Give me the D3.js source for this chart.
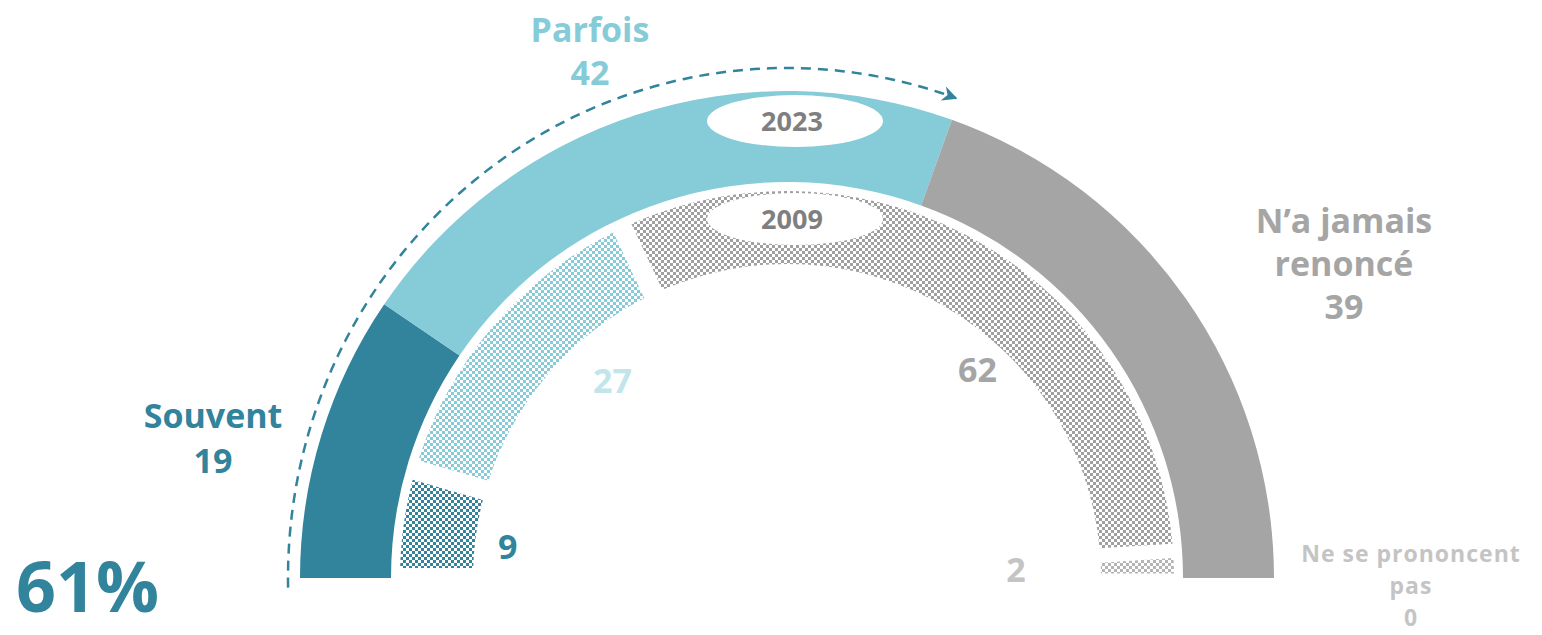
<!DOCTYPE html>
<html>
<head>
<meta charset="utf-8">
<script src="https://cdn.jsdelivr.net/npm/d3@7"></script>
<style>
  body { margin: 0; background: #fff; }
  text { font-family: "Open Sans", sans-serif; font-weight: 700; }
</style>
</head>
<body>
<svg width="1542" height="635"></svg>
<script>
// data
var categories = ["Souvent", "Parfois", "N’a jamais renoncé", "Ne se prononcent pas"];
var labelLines = [["Souvent"], ["Parfois"], ["N’a jamais", "renoncé"], ["Ne se prononcent", "pas"]];
var values2023 = [19, 42, 39, 0];
var values2009 = [9, 27, 62, 2];
var years = ["2023", "2009"];
var totalLabel = "61%";

var svg = d3.select("svg"),
    cx = 787, cy = 578;

var solid = ["#31849b", "#86cbd8", "#a5a5a5", "#a5a5a5"];
var checker = ["#31849b", "#86cbd8", "#a0a0a0", "#b4b4b4"];
var labelColor = ["#31849b", "#86cbd8", "#a5a5a5", "#c4c4c4"];
var label2009Color = ["#31849b", "#c2e5ec", "#a5a5a5", "#c4c4c4"];

// percent -> angle (0 = top, clockwise)
var angle = d3.scaleLinear().domain([0, 100]).range([-Math.PI / 2, Math.PI / 2]);

var pie = d3.pie().sort(null).startAngle(-Math.PI / 2).endAngle(Math.PI / 2);

var defs = svg.append("defs");

checker.forEach(function(c, i) {
  var p = defs.append("pattern")
    .attr("id", "chk" + i)
    .attr("patternUnits", "userSpaceOnUse")
    .attr("width", 6).attr("height", 6);
  p.append("rect").attr("width", 6).attr("height", 6).attr("fill", "#fff");
  p.append("rect").attr("width", 3).attr("height", 3).attr("fill", c);
  p.append("rect").attr("x", 3).attr("y", 3).attr("width", 3).attr("height", 3).attr("fill", c);
});

defs.append("marker")
  .attr("id", "arrowhead")
  .attr("viewBox", "0 -5 10 10")
  .attr("refX", 9)
  .attr("refY", 0)
  .attr("orient", "auto")
  .attr("markerUnits", "userSpaceOnUse")
  .attr("markerWidth", 15)
  .attr("markerHeight", 15)
  .append("path")
  .attr("d", "M0,-5 L10,0 L0,5 L3,0 Z")
  .attr("fill", "#31849b");

var g = svg.append("g").attr("transform", "translate(" + cx + "," + cy + ")");

// 2023 outer ring
var arcOuter = d3.arc().innerRadius(396).outerRadius(487);
g.append("g").selectAll("path")
  .data(pie(values2023))
  .enter().append("path")
  .attr("d", arcOuter)
  .attr("fill", function(d, i) { return solid[i]; });

// 2009 inner ring, checkered, with gaps
var padR = 350;
var arcInner = d3.arc().innerRadius(314).outerRadius(387)
  .padRadius(padR)
  .padAngle(function(d) {
    return Math.min(20, 0.4 * padR * (d.endAngle - d.startAngle)) / padR;
  });
g.append("g").selectAll("path")
  .data(pie(values2009))
  .enter().append("path")
  .attr("d", arcInner)
  .attr("fill", function(d, i) { return "url(#chk" + i + ")"; });

// year ellipses
var yearY = [121, 219];
years.forEach(function(y, i) {
  svg.append("ellipse")
    .attr("cx", 795).attr("cy", yearY[i])
    .attr("rx", 88).attr("ry", 26)
    .attr("fill", "#fff");
  svg.append("text")
    .attr("x", 792).attr("y", yearY[i] + 10)
    .attr("text-anchor", "middle")
    .attr("font-size", 27)
    .attr("fill", "#7f7f7f")
    .text(y);
});

// dashed arrow over Souvent + Parfois
var share = values2023[0] + values2023[1];
var rx = 499, ry = 510;
var pts = d3.range(-0.6, share + 0.001, 0.5).concat([share]).map(function(p) {
  var a = angle(p);
  return [cx + rx * Math.sin(a), cy - ry * Math.cos(a)];
});
svg.append("path")
  .attr("d", d3.line()(pts))
  .attr("fill", "none")
  .attr("stroke", "#31849b")
  .attr("stroke-width", 2.5)
  .attr("stroke-dasharray", "10,7")
  .attr("marker-end", "url(#arrowhead)");

// 2023 labels
var labelPos = [
  {x: 213, y: 428, size: 34, lh: 45, ls: 0},
  {x: 590, y: 42, size: 34, lh: 43, ls: 0},
  {x: 1344, y: 233, size: 34, lh: 43, ls: 0},
  {x: 1411, y: 562, size: 23, lh: 32, ls: 1}
];
labelLines.forEach(function(lines, i) {
  var t = svg.append("text")
    .attr("text-anchor", "middle")
    .attr("font-size", labelPos[i].size)
    .attr("letter-spacing", labelPos[i].ls)
    .attr("fill", labelColor[i]);
  lines.concat([String(values2023[i])]).forEach(function(s, j) {
    t.append("tspan")
      .attr("x", labelPos[i].x)
      .attr("y", labelPos[i].y + j * labelPos[i].lh)
      .text(s);
  });
});

// 2009 value labels (polar placement inside ring)
var label2009At = [{p: 3.5, r: 281}, {p: 26.9, r: 263}, {p: 73.6, r: 282}, {p: 98.9, r: 229}];
values2009.forEach(function(v, i) {
  var a = angle(label2009At[i].p), r = label2009At[i].r;
  svg.append("text")
    .attr("x", cx + r * Math.sin(a))
    .attr("y", cy - r * Math.cos(a) + 12)
    .attr("text-anchor", "middle")
    .attr("font-size", 34)
    .attr("fill", label2009Color[i])
    .text(v);
});

// total
svg.append("text")
  .attr("x", 16).attr("y", 612)
  .attr("font-size", 70)
  .attr("font-weight", 600)
  .attr("fill", "#31849b")
  .text(totalLabel);
</script>
</body>
</html>
